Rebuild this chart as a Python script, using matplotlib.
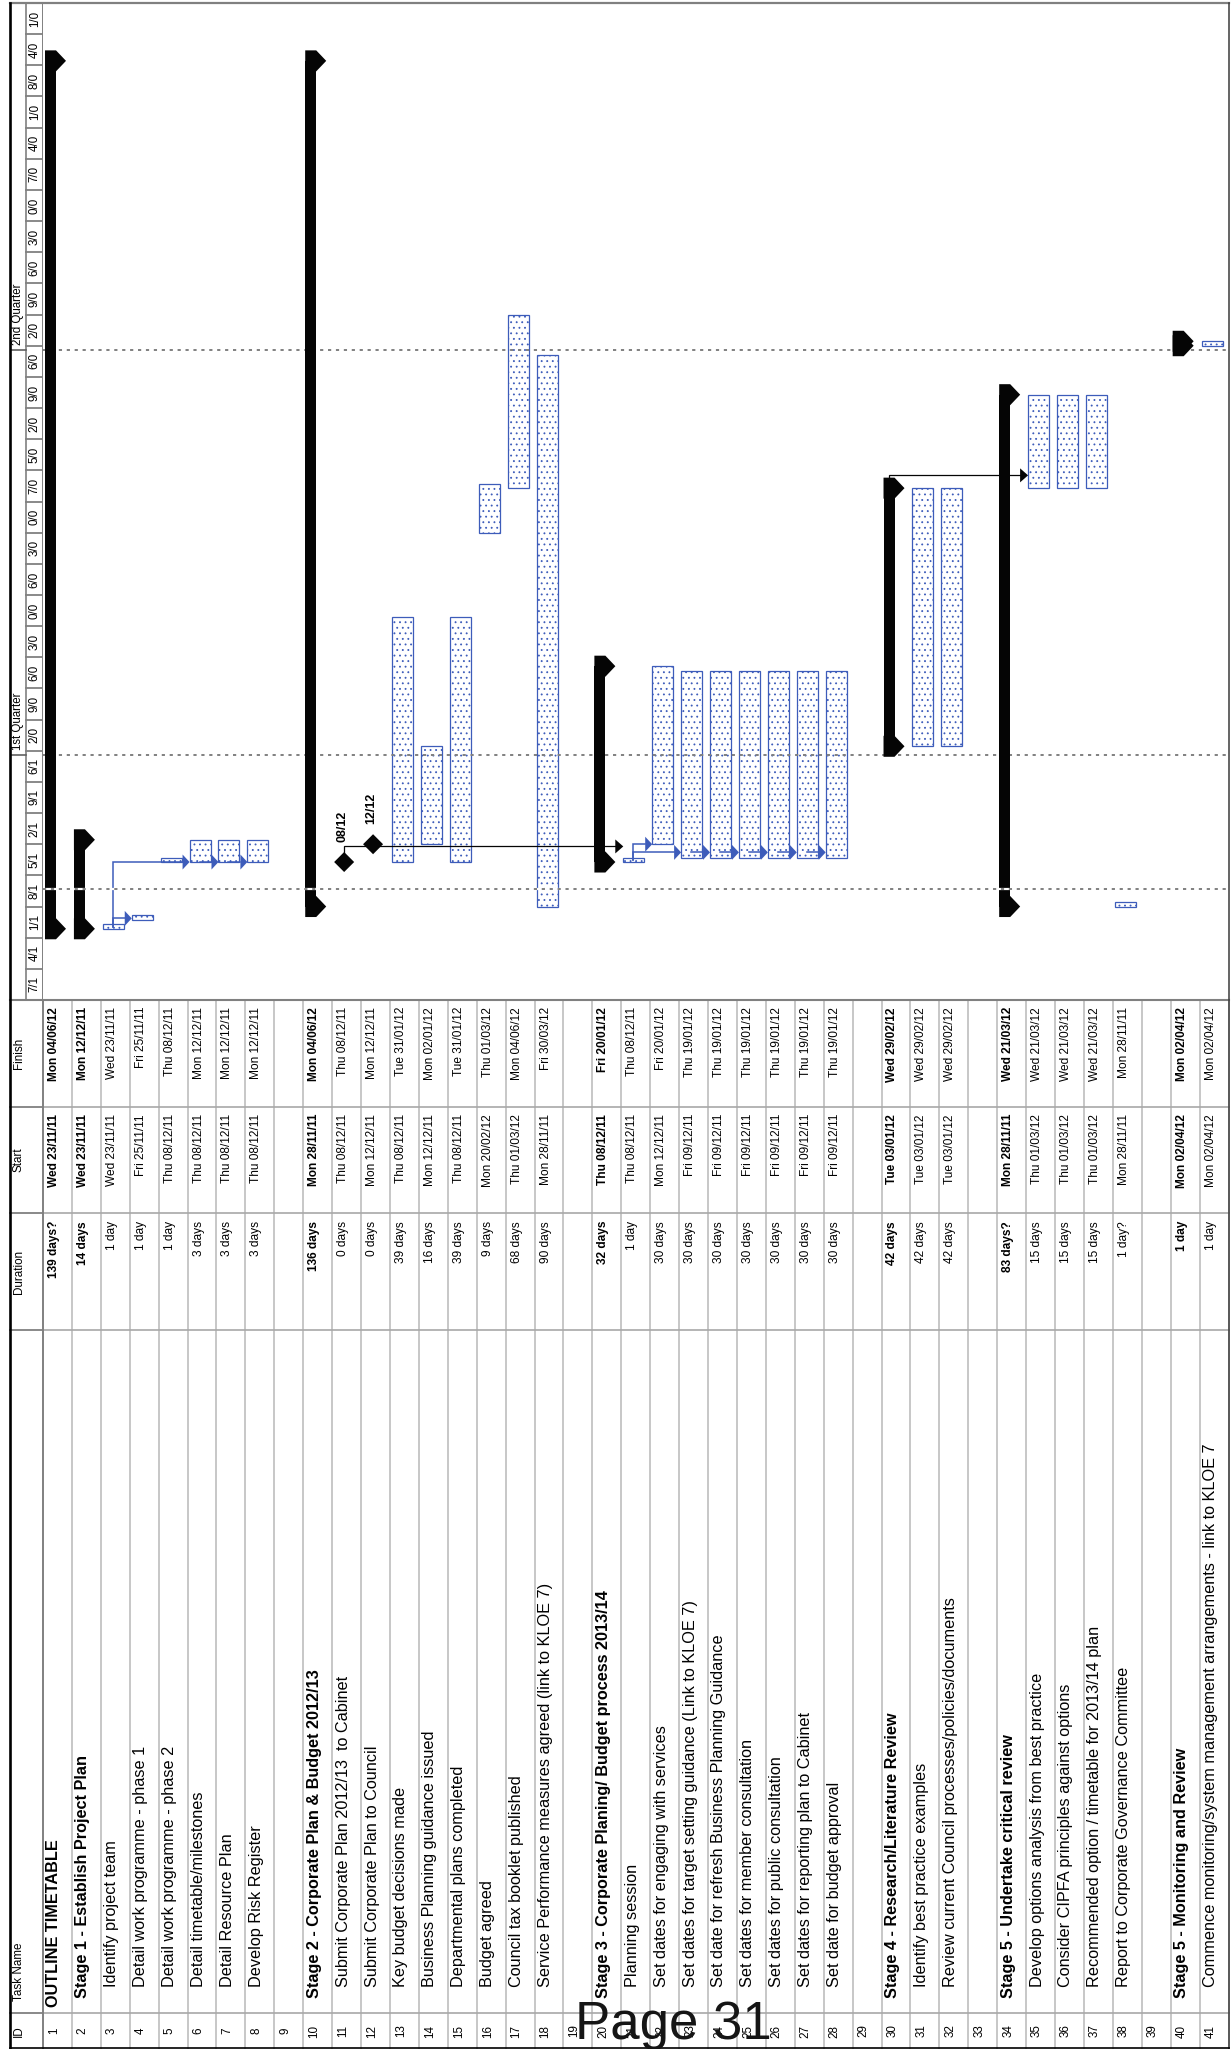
import datetime as dt

import matplotlib
matplotlib.use("Agg")
import matplotlib.pyplot as plt
import matplotlib.dates as mdates
from matplotlib.patches import Polygon, Rectangle

plt.rcParams['font.family'] = ['Liberation Sans', 'DejaVu Sans']
plt.rcParams['lines.scale_dashes'] = False
plt.rcParams['hatch.linewidth'] = 0.6

W, H, DPI = 1231, 2049, 100

# ------------------------------------------------------------------
# project table (one entry per row, blank rows are separators)
# ------------------------------------------------------------------
task_names = [
    "OUTLINE TIMETABLE",
    "Stage 1 - Establish Project Plan",
    "Identify project team",
    "Detail work programme - phase 1",
    "Detail work programme - phase 2",
    "Detail timetable/milestones",
    "Detail Resource Plan",
    "Develop Risk Register",
    "",
    "Stage 2 - Corporate Plan & Budget 2012/13",
    "Submit Corporate Plan 2012/13  to Cabinet",
    "Submit Corporate Plan to Council",
    "Key budget decisions made",
    "Business Planning guidance issued",
    "Departmental plans completed",
    "Budget agreed",
    "Council tax booklet published",
    "Service Performance measures agreed (link to KLOE 7)",
    "",
    "Stage 3 - Corporate Planing/ Budget process 2013/14",
    "Planning session",
    "Set dates for engaging with services",
    "Set dates for target setting guidance (Link to KLOE 7)",
    "Set date for refresh Business Planning Guidance",
    "Set dates for member consultation",
    "Set dates for public consultation",
    "Set dates for reporting plan to Cabinet",
    "Set date for budget approval",
    "",
    "Stage 4 - Research/Literature Review",
    "Identify best practice examples",
    "Review current Council processes/policies/documents",
    "",
    "Stage 5 - Undertake critical review",
    "Develop options analysis from best practice",
    "Consider CIPFA principles against options",
    "Recommended option / timetable for 2013/14 plan",
    "Report to Corporate Governance Committee",
    "",
    "Stage 5 - Monitoring and Review",
    "Commence monitoring/system management arrangements - link to KLOE 7",
]

outline_level = [0, 1, 2, 2, 2, 2, 2, 2, 0,
                 1, 2, 2, 2, 2, 2, 2, 2, 2, 0,
                 1, 2, 2, 2, 2, 2, 2, 2, 2, 0,
                 1, 2, 2, 0,
                 1, 2, 2, 2, 2, 0,
                 1, 2]

durations = ["139 days?", "14 days", "1 day", "1 day", "1 day", "3 days", "3 days", "3 days", "",
             "136 days", "0 days", "0 days", "39 days", "16 days", "39 days", "9 days", "68 days",
             "90 days", "",
             "32 days", "1 day", "30 days", "30 days", "30 days", "30 days", "30 days", "30 days",
             "30 days", "",
             "42 days", "42 days", "42 days", "",
             "83 days?", "15 days", "15 days", "15 days", "1 day?", "",
             "1 day", "1 day"]

starts = ["Wed 23/11/11", "Wed 23/11/11", "Wed 23/11/11", "Fri 25/11/11", "Thu 08/12/11",
          "Thu 08/12/11", "Thu 08/12/11", "Thu 08/12/11", "",
          "Mon 28/11/11", "Thu 08/12/11", "Mon 12/12/11", "Thu 08/12/11", "Mon 12/12/11",
          "Thu 08/12/11", "Mon 20/02/12", "Thu 01/03/12", "Mon 28/11/11", "",
          "Thu 08/12/11", "Thu 08/12/11", "Mon 12/12/11", "Fri 09/12/11", "Fri 09/12/11",
          "Fri 09/12/11", "Fri 09/12/11", "Fri 09/12/11", "Fri 09/12/11", "",
          "Tue 03/01/12", "Tue 03/01/12", "Tue 03/01/12", "",
          "Mon 28/11/11", "Thu 01/03/12", "Thu 01/03/12", "Thu 01/03/12", "Mon 28/11/11", "",
          "Mon 02/04/12", "Mon 02/04/12"]

finishes = ["Mon 04/06/12", "Mon 12/12/11", "Wed 23/11/11", "Fri 25/11/11", "Thu 08/12/11",
            "Mon 12/12/11", "Mon 12/12/11", "Mon 12/12/11", "",
            "Mon 04/06/12", "Thu 08/12/11", "Mon 12/12/11", "Tue 31/01/12", "Mon 02/01/12",
            "Tue 31/01/12", "Thu 01/03/12", "Mon 04/06/12", "Fri 30/03/12", "",
            "Fri 20/01/12", "Thu 08/12/11", "Fri 20/01/12", "Thu 19/01/12", "Thu 19/01/12",
            "Thu 19/01/12", "Thu 19/01/12", "Thu 19/01/12", "Thu 19/01/12", "",
            "Wed 29/02/12", "Wed 29/02/12", "Wed 29/02/12", "",
            "Wed 21/03/12", "Wed 21/03/12", "Wed 21/03/12", "Wed 21/03/12", "Mon 28/11/11", "",
            "Mon 02/04/12", "Mon 02/04/12"]

summary_rows = [1, 2, 10, 20, 30, 34, 40]
milestone_rows = [11, 12]
# the booklet bar is printed shorter than its finish column
bar_last_day = {17: "08/04/12"}

# links: (from row, from date, to row, to date)
blue_links = [
    (3, "23/11/11 12:00", 4, "25/11/11 08:00"),
    (3, "23/11/11 12:00", 6, "08/12/11"),
    (6, "08/12/11", 7, "08/12/11"),
    (7, "08/12/11", 8, "08/12/11"),
    (21, "08/12/11 12:00", 22, "12/12/11"),
    (21, "08/12/11 12:00", 23, "10/12/11 04:00"),
    (23, "10/12/11 04:00", 24, "10/12/11 04:00"),
    (24, "10/12/11 04:00", 25, "10/12/11 04:00"),
    (25, "10/12/11 04:00", 26, "10/12/11 04:00"),
    (26, "10/12/11 04:00", 27, "10/12/11 04:00"),
    (27, "10/12/11 04:00", 28, "10/12/11 04:00"),
]
black_links = [
    (11, "08/12/11", 21, "11/12/11 12:00"),
    (30, "01/03/12", 35, "03/03/12 21:00"),
]

# timescale
view_start = "07/11/11"
view_end = "18/06/12"
week_labels = ["7/1", "4/1", "1/1", "8/1", "5/1", "2/1", "9/1", "6/1",
               "2/0", "9/0", "6/0", "3/0", "0/0", "6/0", "3/0", "0/0", "7/0",
               "5/0", "2/0", "9/0", "6/0",
               "2/0", "9/0", "6/0", "3/0", "0/0", "7/0", "4/0", "1/0", "8/0",
               "4/0", "1/0"]
quarter_labels = ["1st Quarter", "2nd Quarter"]
quarter_starts = ["01/01/12", "01/04/12"]
status_date = "02/12/11"

BLUE = '#3d5cba'
BLACK = '#050505'
GRID = '#808080'
ROWLINE = '#bdbdbd'


def day(s):
    fmt = "%d/%m/%y %H:%M" if ":" in s else "%d/%m/%y"
    return mdates.date2num(dt.datetime.strptime(s, fmt))


def table_day(s):
    return mdates.date2num(dt.datetime.strptime(s, "%a %d/%m/%y"))


# ------------------------------------------------------------------
# page layout (pixel measurements from the top-left corner)
# ------------------------------------------------------------------
GX0, GX1 = 43, 1228.5      # task rows
GY0, GY1 = 3, 1000         # gantt area top / bottom
n_rows = len(task_names)

fig = plt.figure(figsize=(W / DPI, H / DPI), dpi=DPI)
fig.patch.set_facecolor('white')


def frac_x(px):
    return px / W


def frac_y(py):
    return 1 - py / H


ax_g = fig.add_axes([frac_x(GX0), frac_y(GY1), frac_x(GX1 - GX0), (GY1 - GY0) / H])
ax_g.set_xlim(0.5, n_rows + 0.5)
ax_g.set_ylim(day(view_start), day(view_end))
ax_g.axis('off')

ax_ts = fig.add_axes([frac_x(10), frac_y(GY1), frac_x(GX0 - 10), (GY1 - GY0) / H], sharey=ax_g)
ax_ts.set_xlim(10, GX0)
ax_ts.axis('off')

ax_t = fig.add_axes([frac_x(GX0), 0, frac_x(GX1 - GX0), (H - GY1) / H])
ax_t.set_xlim(0.5, n_rows + 0.5)
ax_t.set_ylim(H, GY1)
ax_t.axis('off')

ax_p = fig.add_axes([0, 0, 1, 1])
ax_p.set_xlim(0, W)
ax_p.set_ylim(H, 0)
ax_p.axis('off')

PX_ROW = (GX1 - GX0) / n_rows
PX_DAY = (GY1 - GY0) / (day(view_end) - day(view_start))


def rx(px):
    return px / PX_ROW


def ry(px):
    return px / PX_DAY


# ------------------------------------------------------------------
# gantt bars
# ------------------------------------------------------------------
for q in quarter_starts:
    ax_g.axhline(day(q), color=GRID, lw=1.4, dashes=(2.3, 3.4), zorder=3.5)
ax_g.axhline(day(status_date), color='white', lw=1.6, zorder=6)
ax_g.axhline(day(status_date), color=GRID, lw=1.4, dashes=(2.3, 3.4), zorder=6.1)

for i in range(1, n_rows + 1):
    s_txt, f_txt = starts[i - 1], finishes[i - 1]
    if not s_txt:
        continue
    s = table_day(s_txt)
    e = table_day(f_txt) + 1
    if i in bar_last_day:
        e = day(bar_last_day[i]) + 1
    left = i - 0.5
    if i in milestone_rows:
        cx = left + rx(12)
        ax_g.add_patch(Polygon([(cx - rx(10), s), (cx, s + ry(10)), (cx + rx(10), s), (cx, s - ry(10))],
                               closed=True, color=BLACK, lw=0, zorder=5))
        ax_g.text(left + rx(10), s + ry(20), mdates.num2date(s).strftime('%d/%m'),
                  rotation=90, rotation_mode='anchor', ha='left', va='center',
                  fontsize=9, fontweight='bold', zorder=5)
    elif i in summary_rows:
        x0, xn, xt = left + rx(2), left + rx(13), left + rx(23)
        ax_g.add_patch(Rectangle((x0, s), xn - x0, e - s, color=BLACK, lw=0, zorder=3.7))
        for d in (s, e):
            h = ry(10.5)
            ax_g.add_patch(Polygon([(x0, d - h), (xn, d - h), (xt, d), (xn, d + h), (x0, d + h)],
                                   closed=True, color=BLACK, lw=0, zorder=3.7))
    else:
        ax_g.add_patch(Rectangle((left + rx(2), s), rx(21), e - s, facecolor='white',
                                 edgecolor=BLUE, hatch='...', lw=0.9, zorder=3))


def link_x(row):
    return row - 0.5 + (rx(7.5) if row in summary_rows else rx(12))


def draw_link(src, src_date, dst, dst_date, color, lw, head_len, head_half):
    xs = link_x(src)
    xt = dst - 0.5 + rx(2)
    y0, y1 = day(src_date), day(dst_date)
    ax_g.plot([xs, xs, xt - rx(head_len)], [y0, y1, y1], color=color, lw=lw,
              solid_joinstyle='miter', zorder=4)
    ax_g.add_patch(Polygon([(xt, y1), (xt - rx(head_len), y1 + ry(head_half)),
                            (xt - rx(head_len), y1 - ry(head_half))],
                           closed=True, color=color, lw=0, zorder=4.5))


for lk in blue_links:
    draw_link(*lk, color=BLUE, lw=1.1, head_len=7, head_half=7.5)
for lk in black_links:
    draw_link(*lk, color=BLACK, lw=0.9, head_len=8, head_half=7)

# ------------------------------------------------------------------
# timescale header
# ------------------------------------------------------------------
week0 = day(view_start)
ax_ts.plot([26, 26], [day(view_start), day(view_end)], color=GRID, lw=1.2)
ax_ts.plot([GX0, GX0], [day(view_start), day(view_end)], color=GRID, lw=1.4)
for k, lab in enumerate(week_labels):
    m = week0 + 7 * k
    ax_ts.plot([26, GX0], [m, m], color=GRID, lw=1.3)
    ax_ts.text(34.8, m + 3.5, lab, rotation=90, rotation_mode='anchor',
               ha='center', va='center', fontsize=8.3)
for q, lab in zip(quarter_starts, quarter_labels):
    ax_ts.plot([10, 26], [day(q), day(q)], color='#606060', lw=1.2)
    ax_ts.text(18.5, day(q) + ry(5), lab, rotation=90, rotation_mode='anchor',
               ha='left', va='center', fontsize=8.3)

# ------------------------------------------------------------------
# table
# ------------------------------------------------------------------
COL_FINISH, COL_START, COL_DUR, COL_NAME, COL_ID = 1107, 1213, 1330, 2013, H
for k in range(1, n_rows + 1):
    ax_t.plot([k + 0.5, k + 0.5], [GY1, H], color=ROWLINE, lw=1.2, clip_on=False)
for yb in (COL_FINISH, COL_START, COL_DUR, COL_NAME):
    ax_t.plot([0.5, n_rows + 0.5], [yb, yb], color='#a8a8a8', lw=1.2, clip_on=False)

name_start = {0: 2007, 1: 1998, 2: 1987}
for i in range(1, n_rows + 1):
    x = i - rx(3.5)
    weight = 'bold' if i in summary_rows else 'normal'
    common = dict(rotation=90, rotation_mode='anchor', va='center', clip_on=False)
    ax_t.text(x, (COL_NAME + COL_ID) / 2, str(i), ha='center', fontsize=8.4, **common)
    name = task_names[i - 1]
    if name:
        ax_t.text(x, name_start[outline_level[i - 1]], name, ha='left',
                  fontsize=11.7, fontweight=weight, **common)
    if durations[i - 1]:
        ax_t.text(x, COL_START + 8, durations[i - 1], ha='right',
                  fontsize=8.6, fontweight=weight, **common)
    if starts[i - 1]:
        ax_t.text(x, COL_FINISH + 7, starts[i - 1], ha='right',
                  fontsize=8.6, fontweight=weight, **common)
        ax_t.text(x, GY1 + 7, finishes[i - 1], ha='right',
                  fontsize=8.6, fontweight=weight, **common)

# header cells
hdr = dict(rotation=90, rotation_mode='anchor', va='center', fontsize=8.4)
ax_p.text(19, (COL_NAME + COL_ID) / 2, "ID", ha='center', **hdr)
ax_p.text(19, 2001, "Task Name", ha='left', **hdr)
ax_p.text(19, (COL_START + COL_DUR) / 2, "Duration", ha='center', **hdr)
ax_p.text(19, (COL_FINISH + COL_START) / 2, "Start", ha='center', **hdr)
ax_p.text(19, (GY1 + COL_FINISH) / 2, "Finish", ha='center', **hdr)
for yb in (COL_FINISH, COL_START, COL_DUR, COL_NAME):
    ax_p.plot([10, GX0], [yb, yb], color=GRID, lw=1.3)
ax_p.plot([GX0, GX0], [GY1, H], color=GRID, lw=1.4)

# frame
ax_p.plot([10, 1229], [GY1, GY1], color=GRID, lw=1.5)
ax_p.plot([10, 1229], [3, 3], color=GRID, lw=1.6)
ax_p.plot([10, 10], [3, H], color='black', lw=1.9)
ax_p.plot([1229, 1229], [3, H], color='#3a3a3a', lw=1.1)
ax_p.plot([10, 1229], [2048, 2048], color='black', lw=1.2)

ax_p.text(575, 2039, "Page 31", fontsize=38, ha='left', va='baseline', color='#151515')

fig.savefig('out.png', dpi=DPI, facecolor='white')
